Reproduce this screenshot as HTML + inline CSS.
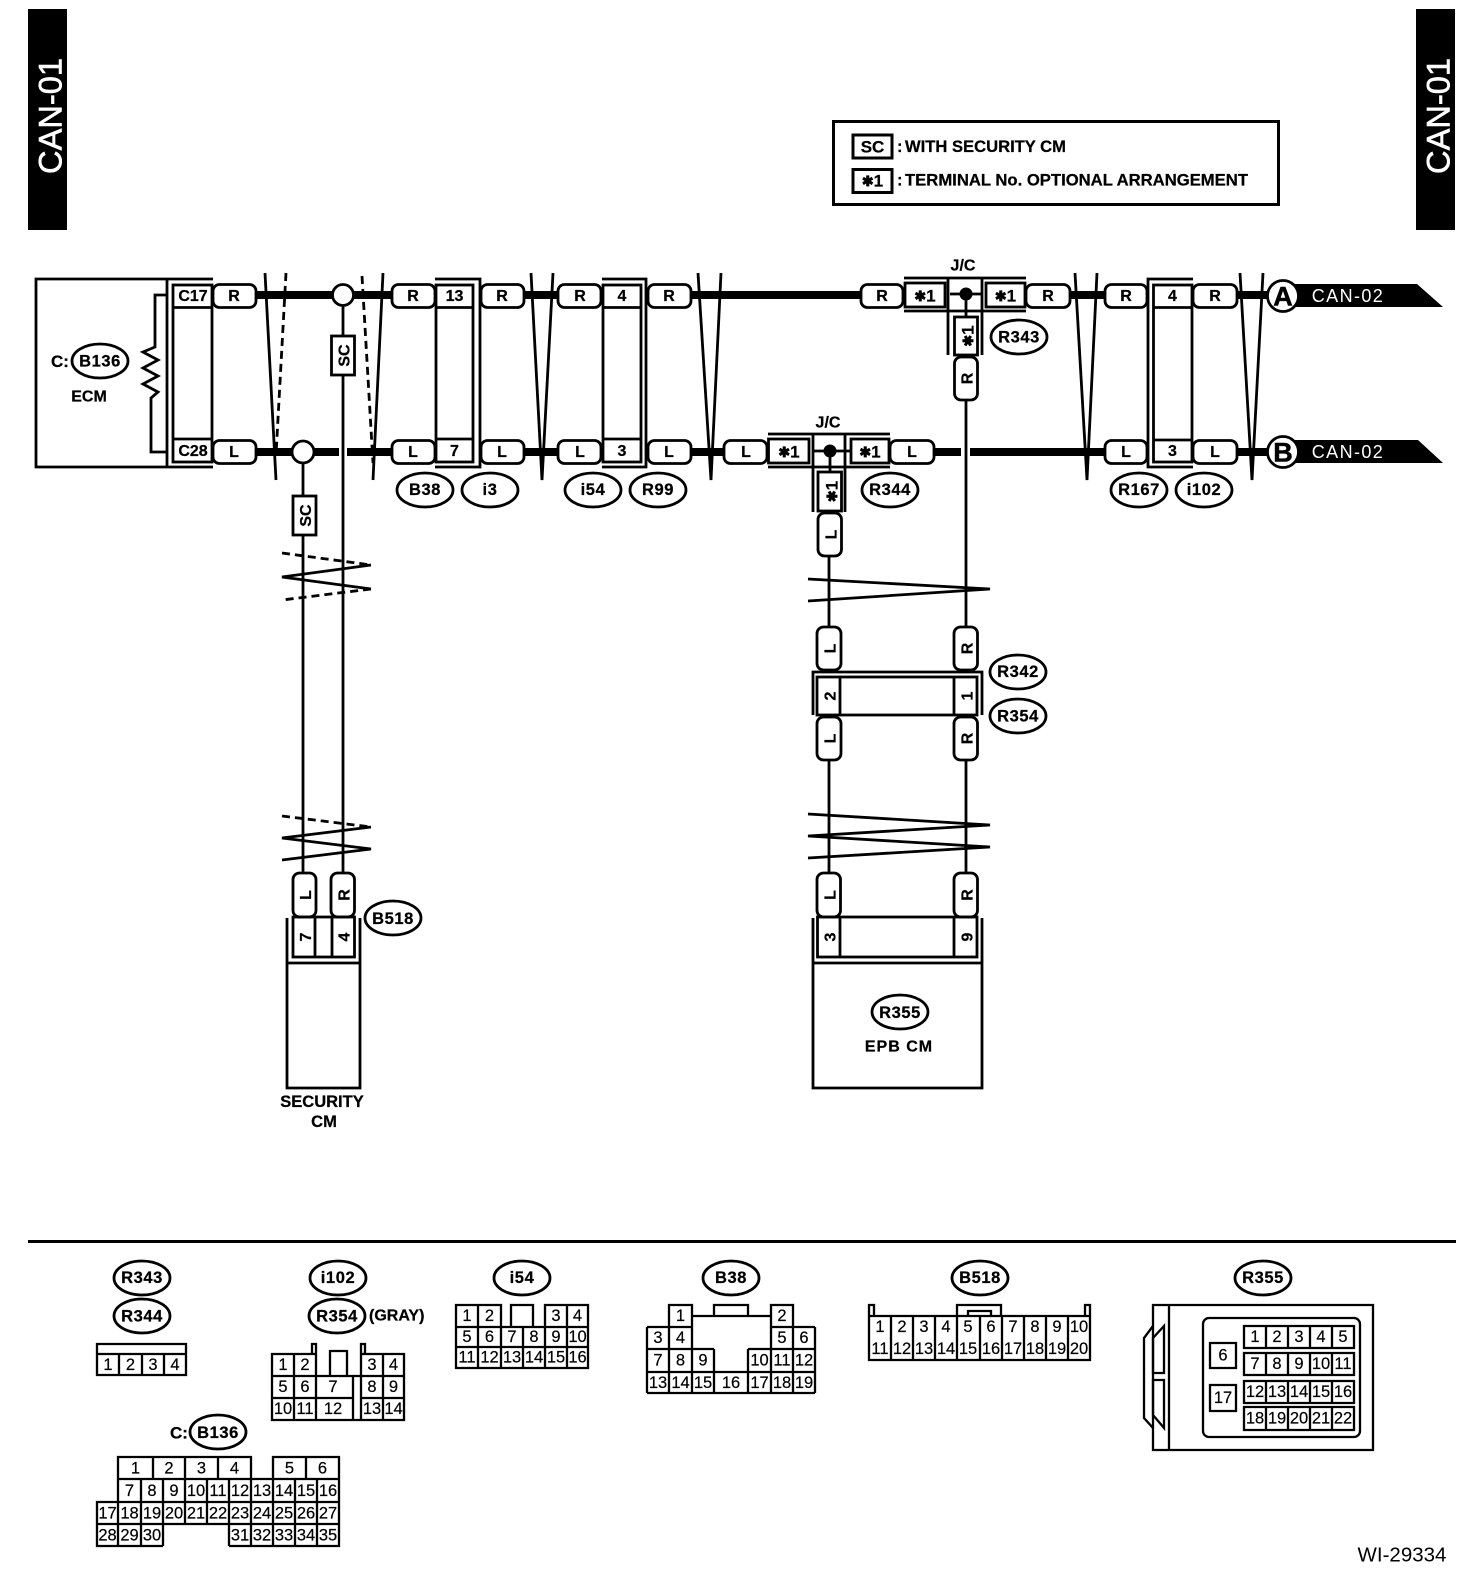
<!DOCTYPE html>
<html><head><meta charset="utf-8"><style>
html,body{margin:0;padding:0;background:#fff}
svg{display:block}
text{font-family:"Liberation Sans",sans-serif;fill:#000;text-anchor:middle;dominant-baseline:central}
text[transform]{dominant-baseline:mathematical}
.b{font-weight:bold;font-size:16px;stroke:#000;stroke-width:.25}
.e{font-weight:bold;font-size:16.5px;letter-spacing:.6px;stroke:#000;stroke-width:.25}
.n text,.g text{font-size:16.5px;stroke:#000;stroke-width:.2}
.l{text-anchor:start}
.st{font-size:14px}
.s{fill:none;stroke:#000;stroke-width:2.8}
.c{fill:none;stroke:#000;stroke-width:2.3}
.c1{fill:#fff;stroke:#000;stroke-width:2.8}
.w{stroke:#000;stroke-width:8;fill:none}
.t{stroke:#000;stroke-width:2.8;fill:none}
.d{stroke:#000;stroke-width:2.8;fill:none;stroke-dasharray:8 5}
.p rect,rect.p{fill:#fff;stroke:#000;stroke-width:2.8}
ellipse{fill:#fff;stroke:#000;stroke-width:2.8}
</style></head><body>
<svg width="1472" height="1582" viewBox="0 0 1472 1582" xmlns="http://www.w3.org/2000/svg">
<rect width="1472" height="1582" fill="#fff"/>

<!-- top tabs -->
<rect x="28" y="9" width="39" height="221" fill="#000"/>
<text x="46.500" y="116" transform="rotate(-90 46.500 116)" style="fill:#fff;font-size:32.6px;stroke:#fff;stroke-width:.6">CAN-01</text>
<rect x="1416" y="9" width="39" height="221" fill="#000"/>
<text x="1434.500" y="116" transform="rotate(-90 1434.500 116)" style="fill:#fff;font-size:32.6px;stroke:#fff;stroke-width:.6">CAN-01</text>

<!-- legend -->
<rect x="833.500" y="121.500" width="445" height="83" fill="none" stroke="#000" stroke-width="3"/>
<rect x="853" y="135" width="39" height="23" fill="none" stroke="#000" stroke-width="3"/>
<text x="872.500" y="147" class="b" style="font-size:17px">SC</text>
<text x="897" y="147" class="b l" style="font-size:16.5px">:</text>
<text x="905" y="147" class="b l" style="font-size:16.5px" textLength="161" lengthAdjust="spacingAndGlyphs">WITH SECURITY CM</text>
<rect x="853" y="169.500" width="39" height="23" fill="none" stroke="#000" stroke-width="3"/>
<text x="872.500" y="181" class="b" style="font-size:17px"><tspan class="st">✱</tspan>1</text>
<text x="897" y="180.500" class="b l" style="font-size:16.5px">:</text>
<text x="905" y="180.500" class="b l" style="font-size:16.5px" textLength="343" lengthAdjust="spacingAndGlyphs">TERMINAL No. OPTIONAL ARRANGEMENT</text>

<!-- thick wires -->
<path class="w" d="M256 295H392M524 295H558M691 295H861M1070 295H1105M1237 295H1270"/>
<path class="w" d="M256 452H339M347 452H392M524 452H558M691 452H724M934 452H961M970 452H1105M1237 452H1270"/>

<!-- thin verticals -->
<path class="t" d="M343 295V873M303 452V873M966 400V627M966 760V873M829 556V627M829 760V873"/>

<!-- wire break marks horizontal wires -->
<path class="t" d="M265 273L276 480M383 273L373 480M531 273L542 480M553 273L542 480M698 273L711 480M721 273L711 480M1075 273L1087 480M1097 273L1087 480M1240 273L1252 480M1263 273L1252 480"/>
<path class="d" d="M286 273L276 455M362 276L373 463"/>

<!-- wire break marks vertical wires -->
<path class="d" d="M282 553L371 565M371 589L282 600M282 816L371 827"/>
<path class="t" d="M371 565L282 577L371 589M371 827L282 838L371 849L282 860"/>
<path class="t" d="M808 579L990 589L808 601M808 814L990 825L808 836L990 847L808 858"/>

<!-- ECM -->
<path class="t" d="M213 279H36V467H213M167 279V467"/>
<rect x="173" y="285" width="39" height="177" class="s"/>
<path class="s" d="M173 307.500H212M173 439H212"/>
<path class="t" d="M167 295H155V347L143 352L158 360L143 368L158 376L143 384L158 392L151 398V452H167"/>
<text x="193" y="296.500" class="b">C17</text>
<text x="193" y="451.500" class="b">C28</text>
<text x="60" y="361.500" class="b" style="font-size:17px">C:</text>
<ellipse cx="100" cy="361" rx="28" ry="17"/>
<text x="100" y="361.500" class="e">B136</text>
<text x="89" y="397" class="b">ECM</text>

<!-- horizontal pills -->
<g class="p">
<rect x="213" y="284.500" width="43" height="23" rx="6.500"/>
<rect x="392" y="284.500" width="43" height="23" rx="6.500"/>
<rect x="481" y="284.500" width="43" height="23" rx="6.500"/>
<rect x="558" y="284.500" width="43" height="23" rx="6.500"/>
<rect x="648" y="284.500" width="43" height="23" rx="6.500"/>
<rect x="861" y="284.500" width="42" height="23" rx="6.500"/>
<rect x="1026" y="284.500" width="44" height="23" rx="6.500"/>
<rect x="1105" y="284.500" width="42" height="23" rx="6.500"/>
<rect x="1193" y="284.500" width="44" height="23" rx="6.500"/>
<rect x="213" y="440.500" width="43" height="23" rx="6.500"/>
<rect x="392" y="440.500" width="43" height="23" rx="6.500"/>
<rect x="481" y="440.500" width="43" height="23" rx="6.500"/>
<rect x="558" y="440.500" width="43" height="23" rx="6.500"/>
<rect x="648" y="440.500" width="43" height="23" rx="6.500"/>
<rect x="724" y="440.500" width="43" height="23" rx="6.500"/>
<rect x="890" y="440.500" width="44" height="23" rx="6.500"/>
<rect x="1105" y="440.500" width="42" height="23" rx="6.500"/>
<rect x="1193" y="440.500" width="44" height="23" rx="6.500"/>
</g>
<g class="b">
<text x="234" y="296.500">R</text><text x="413" y="296.500">R</text><text x="502" y="296.500">R</text><text x="580" y="296.500">R</text><text x="669" y="296.500">R</text><text x="882" y="296.500">R</text><text x="1048" y="296.500">R</text><text x="1126" y="296.500">R</text><text x="1215" y="296.500">R</text>
<text x="234" y="452.500">L</text><text x="413" y="452.500">L</text><text x="502" y="452.500">L</text><text x="580" y="452.500">L</text><text x="669" y="452.500">L</text><text x="746" y="452.500">L</text><text x="912" y="452.500">L</text><text x="1126" y="452.500">L</text><text x="1215" y="452.500">L</text>
</g>

<!-- junction circles -->
<circle cx="343" cy="295" r="10.500" class="c1"/>
<circle cx="303" cy="452" r="11" class="c1"/>

<!-- SC boxes -->
<rect x="331.500" y="336" width="23" height="39" class="c1"/>
<text x="343" y="355.500" transform="rotate(-90 343 355.500)" class="b">SC</text>
<rect x="293" y="496" width="23" height="39" class="c1"/>
<text x="304.500" y="515.500" transform="rotate(-90 304.500 515.500)" class="b">SC</text>

<!-- in-line connectors -->
<path class="t" d="M435 279H480V467H435"/>
<rect x="436" y="285" width="37" height="177" class="s"/>
<path class="s" d="M436 307.500H473M436 439H473"/>
<text x="454.500" y="296.500" class="b">13</text><text x="454.500" y="451.500" class="b">7</text>

<path class="t" d="M602 279H646V467H602"/>
<rect x="603" y="285" width="38" height="177" class="s"/>
<path class="s" d="M603 307.500H641M603 439H641"/>
<text x="622" y="296.500" class="b">4</text><text x="622" y="451.500" class="b">3</text>

<path class="t" d="M1193 279H1148V467H1193"/>
<rect x="1153.500" y="285" width="38.500" height="177" class="s"/>
<path class="s" d="M1153.500 307.500H1192M1153.500 440H1192"/>
<text x="1172.500" y="296.500" class="b">4</text><text x="1172.500" y="451.500" class="b">3</text>

<!-- ovals row -->
<ellipse cx="425" cy="490" rx="28" ry="17"/><text x="425" y="490" class="e">B38</text>
<ellipse cx="490" cy="490" rx="28" ry="17"/><text x="490" y="490" class="e">i3</text>
<ellipse cx="593" cy="490" rx="28" ry="17"/><text x="593" y="490" class="e">i54</text>
<ellipse cx="658" cy="490" rx="28" ry="17"/><text x="658" y="490" class="e">R99</text>
<ellipse cx="1139" cy="490" rx="28" ry="17"/><text x="1139" y="490" class="e">R167</text>
<ellipse cx="1204" cy="490" rx="28" ry="17"/><text x="1204" y="490" class="e">i102</text>

<!-- J/C R343 -->
<text x="963" y="266" class="b">J/C</text>
<path class="t" d="M904 278H1026M904 311H1026M948 278V355M982 278V355M950 294H982M966 294V317"/>
<rect x="905" y="283" width="40" height="24" class="s"/>
<rect x="986" y="283" width="39" height="24" class="s"/>
<circle cx="966" cy="294" r="6.500"/>
<rect x="954.500" y="317" width="23" height="38" class="s"/>
<rect x="954.500" y="357" width="23" height="43" rx="6.500" class="p"/>
<text x="925" y="296" class="b" style="font-size:17px"><tspan class="st">✱</tspan>1</text>
<text x="1005.500" y="296" class="b" style="font-size:17px"><tspan class="st">✱</tspan>1</text>
<text x="966" y="336" transform="rotate(-90 966 336)" class="b" style="font-size:17px"><tspan class="st">✱</tspan>1</text>
<text x="966" y="378.500" transform="rotate(-90 966 378.500)" class="b">R</text>
<ellipse cx="1019" cy="337" rx="28" ry="17"/><text x="1019" y="337.500" class="e">R343</text>

<!-- J/C R344 -->
<text x="828" y="423" class="b">J/C</text>
<path class="t" d="M768 434H890M768 467H890M813 434V512M845 434V512M813 451H851M830 451V472"/>
<rect x="768.500" y="439" width="40.500" height="24" class="s"/>
<rect x="851" y="439" width="38" height="24" class="s"/>
<circle cx="830" cy="451" r="6.500"/>
<rect x="818" y="472" width="23.500" height="39" class="s"/>
<rect x="818" y="513" width="23.500" height="43" rx="6.500" class="p"/>
<text x="789" y="452" class="b" style="font-size:17px"><tspan class="st">✱</tspan>1</text>
<text x="870" y="452" class="b" style="font-size:17px"><tspan class="st">✱</tspan>1</text>
<text x="830" y="491.500" transform="rotate(-90 830 491.500)" class="b" style="font-size:17px"><tspan class="st">✱</tspan>1</text>
<text x="830" y="534.500" transform="rotate(-90 830 534.500)" class="b">L</text>
<ellipse cx="890" cy="490" rx="28" ry="17"/><text x="890" y="490" class="e">R344</text>

<!-- R342 / R354 connector -->
<g class="p">
<rect x="817" y="627" width="24" height="43" rx="6.500"/>
<rect x="954" y="627" width="23.500" height="43" rx="6.500"/>
<rect x="817" y="717" width="24" height="43" rx="6.500"/>
<rect x="954" y="717" width="23.500" height="43" rx="6.500"/>
</g>
<path class="t" d="M813 715V672H982V715"/>
<rect x="817" y="677" width="160" height="38" class="s"/>
<path class="s" d="M840 677V715M954 677V715"/>
<text x="829" y="648.500" transform="rotate(-90 829 648.500)" class="b">L</text>
<text x="966" y="648.500" transform="rotate(-90 966 648.500)" class="b">R</text>
<text x="829" y="696" transform="rotate(-90 829 696)" class="b">2</text>
<text x="966" y="696" transform="rotate(-90 966 696)" class="b">1</text>
<text x="829" y="738.500" transform="rotate(-90 829 738.500)" class="b">L</text>
<text x="966" y="738.500" transform="rotate(-90 966 738.500)" class="b">R</text>
<ellipse cx="1018" cy="672" rx="28" ry="17"/><text x="1018" y="672" class="e">R342</text>
<ellipse cx="1018" cy="716" rx="28" ry="17"/><text x="1018" y="716.500" class="e">R354</text>

<!-- EPB CM -->
<g class="p">
<rect x="817" y="873" width="23.500" height="44" rx="6.500"/>
<rect x="954" y="873" width="23.500" height="44" rx="6.500"/>
</g>
<path class="t" d="M813 918V1088H982V918M813 963H982"/>
<rect x="817.500" y="917" width="159.500" height="40" class="s"/>
<path class="s" d="M840 917V957M954 917V957"/>
<text x="829" y="895" transform="rotate(-90 829 895)" class="b">L</text>
<text x="966" y="895" transform="rotate(-90 966 895)" class="b">R</text>
<text x="829" y="937" transform="rotate(-90 829 937)" class="b">3</text>
<text x="966" y="937" transform="rotate(-90 966 937)" class="b">9</text>
<ellipse cx="900" cy="1012" rx="28" ry="17"/><text x="900" y="1013" class="e">R355</text>
<text x="899" y="1047" class="b" style="letter-spacing:1px">EPB CM</text>

<!-- SECURITY CM -->
<g class="p">
<rect x="293" y="873" width="23" height="44" rx="6.500"/>
<rect x="331" y="873" width="23.500" height="44" rx="6.500"/>
</g>
<path class="t" d="M287 918V1088H360V918M287 963H360"/>
<rect x="293" y="917" width="61.500" height="40" class="s"/>
<path class="s" d="M315 917V957M332 917V957"/>
<text x="304.500" y="895" transform="rotate(-90 304.500 895)" class="b">L</text>
<text x="343" y="895" transform="rotate(-90 343 895)" class="b">R</text>
<text x="304.500" y="937" transform="rotate(-90 304.500 937)" class="b">7</text>
<text x="343" y="937" transform="rotate(-90 343 937)" class="b">4</text>
<ellipse cx="393" cy="918" rx="28" ry="17"/><text x="393" y="919" class="e">B518</text>
<text x="322" y="1102" class="b" style="font-size:16.500px">SECURITY</text>
<text x="324" y="1122" class="b" style="font-size:16.500px">CM</text>

<!-- A / B terminals -->
<path d="M1283 284H1417L1443 307H1283Z" fill="#000"/>
<circle cx="1283" cy="296" r="15.500" class="c1"/>
<text x="1283" y="296.500" style="font-weight:bold;font-size:27px;stroke:#000;stroke-width:.5">A</text>
<text x="1348" y="296" style="fill:#fff;font-size:18px;letter-spacing:1.4px">CAN-02</text>
<path d="M1283 440H1418L1443 463H1283Z" fill="#000"/>
<circle cx="1283" cy="452" r="15.500" class="c1"/>
<text x="1283" y="452.500" style="font-weight:bold;font-size:27px;stroke:#000;stroke-width:.5">B</text>
<text x="1348" y="452" style="fill:#fff;font-size:18px;letter-spacing:1.4px">CAN-02</text>

<!-- divider -->
<path d="M28 1241.500H1456" stroke="#000" stroke-width="3"/>

<!-- R343 R344 face -->
<ellipse cx="142" cy="1278" rx="28" ry="17"/><text x="142" y="1278" class="e">R343</text>
<ellipse cx="142" cy="1316" rx="28" ry="17"/><text x="142" y="1316.500" class="e">R344</text>
<path class="c" d="M97 1344H186V1375H97ZM97 1354H186M119 1354V1375M142 1354V1375M164 1354V1375"/>
<g class="g"><text x="108" y="1365">1</text><text x="130.500" y="1365">2</text><text x="153" y="1365">3</text><text x="175" y="1365">4</text></g>

<!-- i102 R354 face -->
<ellipse cx="338" cy="1278" rx="28" ry="17"/><text x="338" y="1278" class="e">i102</text>
<ellipse cx="337" cy="1316" rx="28" ry="17"/><text x="337" y="1316.500" class="e">R354</text>
<text x="369" y="1316" class="b l">(GRAY)</text>
<path class="c" d="M272 1354H316V1376H272ZM361 1354H404V1376H361ZM272 1376H404V1420H272ZM294 1354V1420M316 1354V1420M361 1354V1420M383 1354V1420M272 1398H353M361 1398H404M353 1376V1420M312 1354V1344H316V1354M361 1354V1344H365V1354M330 1376V1351H347V1376"/>
<g class="g">
<text x="283" y="1365">1</text><text x="305" y="1365">2</text><text x="372" y="1365">3</text><text x="393.500" y="1365">4</text>
<text x="283" y="1387">5</text><text x="305" y="1387">6</text><text x="333" y="1387">7</text><text x="372" y="1387">8</text><text x="393.500" y="1387">9</text>
<text x="283" y="1409">10</text><text x="305" y="1409">11</text><text x="333" y="1409">12</text><text x="372" y="1409">13</text><text x="393.500" y="1409">14</text>
</g>

<!-- i54 face -->
<ellipse cx="522" cy="1278" rx="28" ry="17"/><text x="522" y="1278" class="e">i54</text>
<path class="c" d="M456 1327V1305H501V1327M545 1327V1305H588V1327M511 1327V1305H533V1327M456 1327H588V1368H456ZM456 1347H588M478 1305V1368M501 1327V1368M523 1327V1368M545 1327V1368M567 1305V1368"/>
<g class="g">
<text x="467" y="1316">1</text><text x="489.500" y="1316">2</text><text x="556" y="1316">3</text><text x="577.500" y="1316">4</text>
<text x="467" y="1337">5</text><text x="489.500" y="1337">6</text><text x="512" y="1337">7</text><text x="534" y="1337">8</text><text x="556" y="1337">9</text><text x="577.500" y="1337">10</text>
<text x="467" y="1357.500">11</text><text x="489.500" y="1357.500">12</text><text x="512" y="1357.500">13</text><text x="534" y="1357.500">14</text><text x="556" y="1357.500">15</text><text x="577.500" y="1357.500">16</text>
</g>

<!-- B136 face -->
<text x="179" y="1433" class="b" style="font-size:17px">C:</text>
<ellipse cx="218" cy="1432" rx="28" ry="17"/><text x="218" y="1433" class="e">B136</text>
<path class="c" d="M118 1479V1457H251V1479M273 1479V1457H339V1479M118 1479H339V1546H229M163 1546H97V1502H339M97 1524H339M153 1457V1479M185 1457V1479M218 1457V1479M306 1457V1479M118 1479V1546M141 1479V1546M163 1479V1546M185 1479V1524M207 1479V1524M229 1479V1546M251 1479V1546M273 1479V1546M295 1479V1546M317 1479V1546"/>
<g class="g">
<text x="135.500" y="1468.500">1</text><text x="169" y="1468.500">2</text><text x="201.500" y="1468.500">3</text><text x="234.500" y="1468.500">4</text><text x="289.500" y="1468.500">5</text><text x="322.500" y="1468.500">6</text>
<text x="129.500" y="1491">7</text><text x="152" y="1491">8</text><text x="174" y="1491">9</text><text x="196" y="1491">10</text><text x="218" y="1491">11</text><text x="240" y="1491">12</text><text x="262" y="1491">13</text><text x="284" y="1491">14</text><text x="306" y="1491">15</text><text x="328" y="1491">16</text>
<text x="107.500" y="1513.500">17</text><text x="129.500" y="1513.500">18</text><text x="152" y="1513.500">19</text><text x="174" y="1513.500">20</text><text x="196" y="1513.500">21</text><text x="218" y="1513.500">22</text><text x="240" y="1513.500">23</text><text x="262" y="1513.500">24</text><text x="284" y="1513.500">25</text><text x="306" y="1513.500">26</text><text x="328" y="1513.500">27</text>
<text x="107.500" y="1535.500">28</text><text x="129.500" y="1535.500">29</text><text x="152" y="1535.500">30</text><text x="240" y="1535.500">31</text><text x="262" y="1535.500">32</text><text x="284" y="1535.500">33</text><text x="306" y="1535.500">34</text><text x="328" y="1535.500">35</text>
</g>

<!-- B38 face -->
<ellipse cx="731" cy="1278" rx="28" ry="17"/><text x="731" y="1278" class="e">B38</text>
<path class="c" d="M669 1327V1305H692V1327M771 1327V1305H793V1327M692 1316H771M714 1316V1305H748V1316M647 1327H692M771 1327H815M647 1349H714M748 1349H815M647 1372H815M647 1393H815M647 1327V1393M815 1327V1393M669 1327V1393M692 1327V1393M714 1349V1393M748 1349V1393M771 1327V1393M793 1327V1393"/>
<g class="g">
<text x="680.500" y="1316">1</text><text x="782" y="1316">2</text>
<text x="658" y="1338">3</text><text x="680.500" y="1338">4</text><text x="782" y="1338">5</text><text x="804" y="1338">6</text>
<text x="658" y="1360.500">7</text><text x="680.500" y="1360.500">8</text><text x="703" y="1360.500">9</text><text x="759.500" y="1360.500">10</text><text x="782" y="1360.500">11</text><text x="804" y="1360.500">12</text>
<text x="658" y="1383">13</text><text x="680.500" y="1383">14</text><text x="703" y="1383">15</text><text x="731" y="1383">16</text><text x="759.500" y="1383">17</text><text x="782" y="1383">18</text><text x="804" y="1383">19</text>
</g>

<!-- B518 face -->
<ellipse cx="980" cy="1278" rx="28" ry="17"/><text x="980" y="1278" class="e">B518</text>
<path class="c" d="M869 1316H1090V1360H869ZM869 1316V1305H874V1316M1085 1316V1305H1090V1316M957 1316V1305H1001V1316M968 1316V1311H991V1316M891 1316V1360M913 1316V1360M935 1316V1360M957 1316V1360M980 1316V1360M1002 1316V1360M1024 1316V1360M1046 1316V1360M1068 1316V1360"/>
<g class="g">
<text x="880" y="1327">1</text><text x="902" y="1327">2</text><text x="924" y="1327">3</text><text x="946" y="1327">4</text><text x="968" y="1327">5</text><text x="991" y="1327">6</text><text x="1013" y="1327">7</text><text x="1035" y="1327">8</text><text x="1057" y="1327">9</text><text x="1079" y="1327">10</text>
<text x="880" y="1349">11</text><text x="902" y="1349">12</text><text x="924" y="1349">13</text><text x="946" y="1349">14</text><text x="968" y="1349">15</text><text x="991" y="1349">16</text><text x="1013" y="1349">17</text><text x="1035" y="1349">18</text><text x="1057" y="1349">19</text><text x="1079" y="1349">20</text>
</g>

<!-- R355 face -->
<ellipse cx="1263" cy="1278" rx="28" ry="17"/><text x="1263" y="1278" class="e">R355</text>
<path class="c" d="M1153 1305H1373V1450H1153ZM1169 1305V1450"/>
<path class="c" d="M1153 1326L1144 1338V1418L1153 1428M1164 1326L1153 1338V1373H1164ZM1153 1380H1164V1428L1153 1415Z"/>
<rect x="1203" y="1318" width="157" height="119" rx="6" class="c"/>
<path class="c" d="M1244 1326H1354V1348H1244ZM1244 1353H1354V1375H1244ZM1244 1381H1354V1403H1244ZM1244 1407H1354V1430H1244ZM1266 1326V1348M1288 1326V1348M1310 1326V1348M1332 1326V1348M1266 1353V1375M1288 1353V1375M1310 1353V1375M1332 1353V1375M1266 1381V1403M1288 1381V1403M1310 1381V1403M1332 1381V1403M1266 1407V1430M1288 1407V1430M1310 1407V1430M1332 1407V1430M1210 1343H1236V1368H1210ZM1210 1385H1236V1411H1210Z"/>
<g class="g">
<text x="1223" y="1355.500">6</text><text x="1223" y="1398">17</text>
<text x="1255" y="1337">1</text><text x="1277" y="1337">2</text><text x="1299" y="1337">3</text><text x="1321" y="1337">4</text><text x="1343" y="1337">5</text>
<text x="1255" y="1364">7</text><text x="1277" y="1364">8</text><text x="1299" y="1364">9</text><text x="1321" y="1364">10</text><text x="1343" y="1364">11</text>
<text x="1255" y="1392">12</text><text x="1277" y="1392">13</text><text x="1299" y="1392">14</text><text x="1321" y="1392">15</text><text x="1343" y="1392">16</text>
<text x="1255" y="1418.500">18</text><text x="1277" y="1418.500">19</text><text x="1299" y="1418.500">20</text><text x="1321" y="1418.500">21</text><text x="1343" y="1418.500">22</text>
</g>

<text x="1402" y="1555" style="font-size:20.500px">WI-29334</text>
</svg>
</body></html>
